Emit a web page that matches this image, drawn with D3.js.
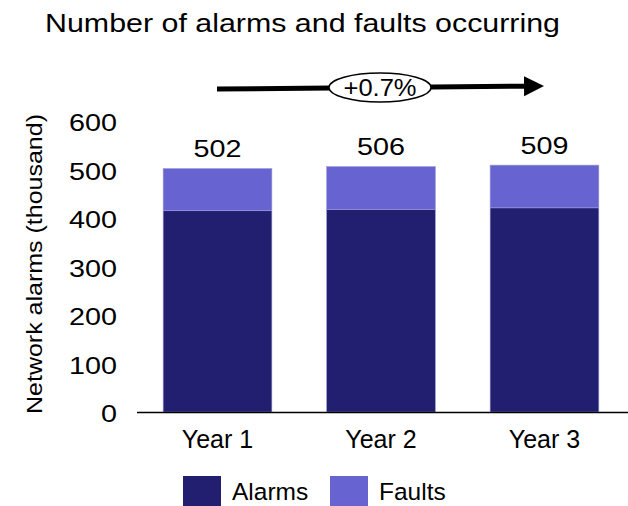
<!DOCTYPE html>
<html>
<head>
<meta charset="utf-8">
<script src="https://cdn.jsdelivr.net/npm/d3@7"></script>
<style>
  body { margin: 0; background: #fff; }
  svg text { font-family: "Liberation Sans", Arial, sans-serif; fill: #000; }
</style>
</head>
<body>
<svg id="chart" width="628" height="506"></svg>
<script>
const years = ["Year 1", "Year 2", "Year 3"];
const alarms = [415, 418, 421];
const faults = [87, 88, 88];
const totals = [502, 506, 509];
const yTicks = [0, 100, 200, 300, 400, 500, 600];
const seriesNames = ["Alarms", "Faults"];
const seriesColors = ["#231f70", "#6764d2"];
const growthLabel = "+0.7%";

const svg = d3.select("#chart");

// the source font is wider than Arial, so digits get stretched a bit
const digitWidth = 16;

const x = d3.scaleBand().domain(years).range([137, 625]).paddingInner(0.335).paddingOuter(0.16);
const y = d3.scaleLinear().domain([0, 600]).range([412, 121]);

// title
svg.append("text")
    .attr("x", 302.5)
    .attr("y", 32)
    .attr("text-anchor", "middle")
    .attr("textLength", 515)
    .attr("lengthAdjust", "spacingAndGlyphs")
    .style("font-size", "25px")
    .text("Number of alarms and faults occurring");

// stacked bars
const rows = years.map((yr, i) => ({ year: yr, Alarms: alarms[i], Faults: faults[i] }));
const stacked = d3.stack().keys(seriesNames)(rows);

svg.append("g")
    .selectAll("g")
    .data(stacked)
    .join("g")
    .attr("fill", (d, i) => seriesColors[i])
    .selectAll("rect")
    .data(d => d)
    .join("rect")
    .attr("x", d => x(d.data.year))
    .attr("y", d => y(d[1]))
    .attr("width", x.bandwidth())
    .attr("height", d => y(d[0]) - y(d[1]))
    .attr("stroke", "#9b9ad8")
    .attr("stroke-width", 0.6);

// total labels
svg.append("g")
    .selectAll("text")
    .data(years)
    .join("text")
    .attr("x", d => x(d) + x.bandwidth() / 2)
    .attr("y", (d, i) => y(totals[i]) - 11.5)
    .attr("text-anchor", "middle")
    .attr("textLength", (d, i) => String(totals[i]).length * digitWidth)
    .attr("lengthAdjust", "spacingAndGlyphs")
    .style("font-size", "23.5px")
    .text((d, i) => totals[i]);

// y axis: labels only
const yAxis = svg.append("g")
    .attr("transform", "translate(117,0)")
    .call(d3.axisLeft(y).tickValues(yTicks).tickSize(0).tickPadding(0));
yAxis.select(".domain").remove();
yAxis.selectAll("text")
    .attr("dy", "0.36em")
    .attr("y", 1.5)
    .attr("textLength", d => String(d).length * digitWidth)
    .attr("lengthAdjust", "spacingAndGlyphs")
    .style("font-size", "23.5px")
    .style("font-family", "'Liberation Sans', Arial, sans-serif")
    .attr("fill", "#000");

// x axis
const xAxis = svg.append("g")
    .attr("transform", `translate(0,${y(0)})`)
    .call(d3.axisBottom(x).tickSize(0).tickPadding(0));
xAxis.select(".domain")
    .attr("d", "M137,0.5H628")
    .attr("stroke", "#000")
    .attr("stroke-width", 1.5);
xAxis.selectAll("text")
    .attr("dy", null)
    .attr("y", 36)
    .style("font-size", "25px")
    .style("font-family", "'Liberation Sans', Arial, sans-serif")
    .attr("fill", "#000");

// y axis title
svg.append("text")
    .attr("transform", "translate(42,264) rotate(-90)")
    .attr("text-anchor", "middle")
    .attr("textLength", 300)
    .attr("lengthAdjust", "spacingAndGlyphs")
    .style("font-size", "22.5px")
    .text("Network alarms (thousand)");

// growth arrow
const defs = svg.append("defs");
defs.append("marker")
    .attr("id", "arrowhead")
    .attr("viewBox", "0 0 10 10")
    .attr("refX", 2)
    .attr("refY", 5)
    .attr("markerWidth", 4)
    .attr("markerHeight", 4.4)
    .attr("orient", "auto")
    .append("path")
    .attr("d", "M0,0L10,5L0,10Z")
    .attr("fill", "#000");

const arrowY = d3.scaleLinear().domain([217, 542]).range([89, 86]);
svg.append("line")
    .attr("x1", 217).attr("y1", arrowY(217))
    .attr("x2", 528).attr("y2", arrowY(528))
    .attr("stroke", "#000")
    .attr("stroke-width", 5)
    .attr("marker-end", "url(#arrowhead)");

svg.append("ellipse")
    .attr("cx", 380)
    .attr("cy", 87.5)
    .attr("rx", 51)
    .attr("ry", 14.5)
    .attr("fill", "#fff")
    .attr("stroke", "#000")
    .attr("stroke-width", 1.5);

svg.append("text")
    .attr("x", 380)
    .attr("y", 96)
    .attr("text-anchor", "middle")
    .attr("textLength", 73)
    .attr("lengthAdjust", "spacingAndGlyphs")
    .style("font-size", "23px")
    .text(growthLabel);

// legend
const legend = svg.append("g")
    .selectAll("g")
    .data(seriesNames)
    .join("g")
    .attr("transform", (d, i) => `translate(${183 + i * 147},476)`);
legend.append("rect")
    .attr("width", 38)
    .attr("height", 30)
    .attr("fill", (d, i) => seriesColors[i]);
legend.append("text")
    .attr("x", 49)
    .attr("y", 24)
    .style("font-size", "24.5px")
    .text(d => d);
</script>
</body>
</html>
